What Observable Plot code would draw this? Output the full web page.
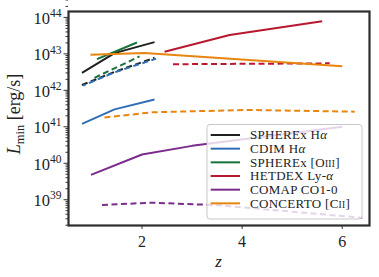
<!DOCTYPE html>
<html><head><meta charset="utf-8">
<script src="https://cdn.jsdelivr.net/npm/d3@7"></script>
<script src="https://cdn.jsdelivr.net/npm/@observablehq/plot@0.6"></script>
<style>
body{margin:0;background:#fff}
#chart{position:relative;width:379px;height:277px}
</style>
</head><body><div id="chart"></div>
<script>
// ---- data ----
const seriesNames = ["SPHEREx Hα", "CDIM Hα", "SPHEREx [OIII]", "HETDEX Ly-α", "COMAP CO1-0", "CONCERTO [CII]"];
const seriesColors = ["#1f1f1f", "#2f6eb5", "#17723b", "#b8182f", "#7b2b8c", "#e8850f"];

const sphHaSolidZ = [0.8, 1.45, 2.25];
const sphHaSolidL = [3.0e42, 1.05e43, 2.1e43];
const sphHaDashZ  = [0.8, 1.45, 2.25];
const sphHaDashL  = [1.4e42, 3.2e42, 7.8e42];

const cdimSolidZ = [0.8, 1.45, 2.25];
const cdimSolidL = [1.2e41, 3.0e41, 5.6e41];
const cdimDashZ  = [0.82, 1.45, 2.28];
const cdimDashL  = [1.35e42, 3.1e42, 7.4e42];

const sphOiiiSolidZ = [1.1, 1.9];
const sphOiiiSolidL = [7.2e42, 2.05e43];
const sphOiiiDashZ  = [1.05, 1.95];
const sphOiiiDashL  = [2.2e42, 8.5e42];

const hetdexSolidZ = [2.45, 3.75, 5.6];
const hetdexSolidL = [1.15e43, 3.3e43, 7.9e43];
const hetdexDashZ  = [2.62, 5.75];
const hetdexDashL  = [5.2e42, 5.5e42];

const comapSolidZ = [0.98, 2.0, 3.0, 6.0];
const comapSolidL = [4.8e39, 1.74e40, 3.0e40, 1.0e41];
const comapDashZ  = [1.2, 2.2, 3.5, 6.4];
const comapDashL  = [7.2e38, 8.3e38, 7.1e38, 3.2e38];

const concertoSolidZ = [0.97, 2.05, 6.0];
const concertoSolidL = [9.5e42, 1.05e43, 4.6e42];
const concertoDashZ  = [1.25, 2.2, 4.1, 6.25];
const concertoDashL  = [1.8e41, 2.5e41, 2.9e41, 2.6e41];

const xTicks = [2, 4, 6];
const yExponents = [39, 40, 41, 42, 43, 44];
const yMinorMultipliers = [2, 3, 4, 5, 6, 7, 8, 9];

// ---- build tables ----
const curves = [
  {s: 0, dash: false, z: sphHaSolidZ, L: sphHaSolidL},
  {s: 0, dash: true,  z: sphHaDashZ,  L: sphHaDashL},
  {s: 1, dash: false, z: cdimSolidZ,  L: cdimSolidL},
  {s: 1, dash: true,  z: cdimDashZ,   L: cdimDashL, offset: 3},
  {s: 2, dash: false, z: sphOiiiSolidZ, L: sphOiiiSolidL},
  {s: 2, dash: true,  z: sphOiiiDashZ,  L: sphOiiiDashL},
  {s: 3, dash: false, z: hetdexSolidZ, L: hetdexSolidL},
  {s: 3, dash: true,  z: hetdexDashZ,  L: hetdexDashL},
  {s: 4, dash: false, z: comapSolidZ, L: comapSolidL},
  {s: 4, dash: true,  z: comapDashZ,  L: comapDashL},
  {s: 5, dash: false, z: concertoSolidZ, L: concertoSolidL},
  {s: 5, dash: true,  z: concertoDashZ,  L: concertoDashL}
];
const yMajor = yExponents.map(e => 10 ** e);
const yMinor = [];
for (let e = 38; e <= 44; e++) for (const m of yMinorMultipliers) yMinor.push(m * 10 ** e);

const lineMarks = curves.map(c => Plot.line(
  c.z.map((z, i) => ({z, L: c.L[i]})),
  {x: "z", y: "L", stroke: seriesColors[c.s], strokeWidth: 2,
   strokeDasharray: c.dash ? "6,3.5" : null, strokeDashoffset: c.offset || 0,
   strokeLinecap: "butt"}
));

const chart = Plot.plot({
  width: 379, height: 277,
  marginLeft: 68, marginRight: 10, marginTop: 11, marginBottom: 52,
  style: {fontFamily: "'Liberation Serif', serif", fontSize: "16px", color: "#222", background: "white", overflow: "visible"},
  x: {domain: [0.531, 6.545]},
  y: {type: "log", domain: [10 ** 38.293, 10 ** 44.162]},
  marks: [
    ...lineMarks,
    Plot.axisX({ticks: xTicks, tickSize: 4, tickPadding: 6, label: null, fontSize: 16, tickFormat: d => String(d), stroke: "#333"}),
    Plot.axisY({ticks: yMinor, tickSize: 2.5, tickFormat: () => "", label: null, stroke: "#333"}),
    Plot.axisY({ticks: yMajor, tickSize: 4.5, tickFormat: () => "", label: null, stroke: "#333"}),
    Plot.text(yExponents, {y: e => 10 ** e, text: () => "10", frameAnchor: "left", textAnchor: "end", dx: -18.5, dy: 1, fontSize: 16.5, fill: "#222"}),
    Plot.text(yExponents, {y: e => 10 ** e, text: e => String(e), frameAnchor: "left", textAnchor: "start", dx: -18.5, dy: -4, fontSize: 11.5, fill: "#222"}),
    Plot.frame({stroke: "#2e2e2e", strokeWidth: 2.2})
  ]
});
document.getElementById("chart").appendChild(chart);

// ---- axis labels and legend (rich text) ----
const svg = d3.select(chart);
const font = "'Liberation Serif', serif";

const yl = svg.append("text").attr("transform", "translate(20,114) rotate(-90)")
  .attr("text-anchor", "middle").attr("font-family", font).attr("font-size", 18).attr("fill", "#222");
yl.append("tspan").attr("font-style", "italic").text("L");
yl.append("tspan").attr("font-size", 12.5).attr("dy", 3.5).text("min");
yl.append("tspan").attr("dy", -3.5).text(" [erg/s]");

svg.append("text").attr("x", 218.5).attr("y", 266.5).attr("text-anchor", "middle")
  .attr("font-family", font).attr("font-size", 17).attr("font-style", "italic").attr("fill", "#222").text("z");

function richParts(s) {
  const parts = []; const re = /α|\[([A-Z])(I+)\]/g; let last = 0, m;
  while ((m = re.exec(s))) {
    if (m.index > last) parts.push({t: s.slice(last, m.index)});
    if (m[0] === "α") parts.push({t: "α", italic: true});
    else { parts.push({t: "[" + m[1]}); parts.push({t: m[2], small: true}); parts.push({t: "]"}); }
    last = re.lastIndex;
  }
  if (last < s.length) parts.push({t: s.slice(last)});
  return parts;
}

const lg = svg.append("g");
lg.append("rect").attr("x", 207).attr("y", 124.5).attr("width", 155).attr("height", 94.5).attr("rx", 3)
  .attr("fill", "#ffffff").attr("fill-opacity", 0.8).attr("stroke", "#c8c8c8").attr("stroke-width", 1);
seriesNames.forEach((name, i) => {
  const cy = 135 + i * 13.67;
  lg.append("line").attr("x1", 210.7).attr("x2", 240).attr("y1", cy).attr("y2", cy)
    .attr("stroke", seriesColors[i]).attr("stroke-width", 2);
  const t = lg.append("text").attr("x", 250).attr("y", cy + 4.3).attr("text-anchor", "start")
    .attr("font-family", font).attr("font-size", 13).attr("letter-spacing", 0.3).attr("fill", "#222");
  for (const p of richParts(name)) {
    const ts = t.append("tspan").text(p.t);
    if (p.italic) ts.attr("font-style", "italic");
    if (p.small) ts.attr("font-size", 9.5);
  }
});
</script>
</body></html>
